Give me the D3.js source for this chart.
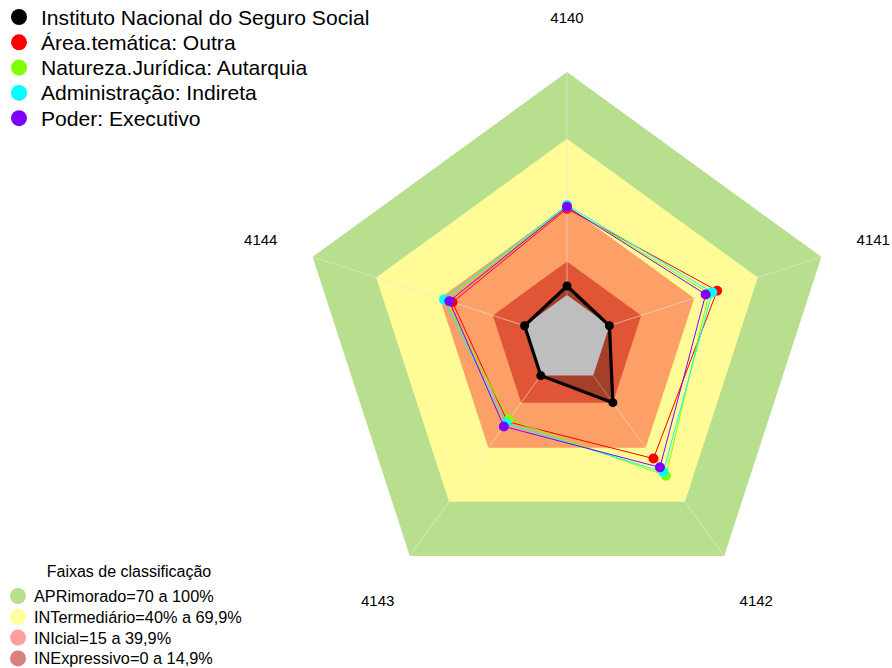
<!DOCTYPE html>
<html>
<head>
<meta charset="utf-8">
<script src="https://cdn.jsdelivr.net/npm/d3@7"></script>
<style>
  html, body { margin: 0; padding: 0; background: #fff; }
  svg { display: block; font-family: "Liberation Sans", Arial, sans-serif; }
</style>
</head>
<body>
<svg id="chart" width="892" height="668"></svg>
<script>
// ---- data ----
const axes = ["4140", "4141", "4142", "4143", "4144"];
const seriesNames = [
  "Instituto Nacional do Seguro Social",
  "Área.temática: Outra",
  "Natureza.Jurídica: Autarquia",
  "Administração: Indireta",
  "Poder: Executivo"
];
const seriesColors = ["#000000", "#FF0000", "#80FF00", "#00FFFF", "#8000FF"];
const inss      = [4, 0, 15, 0, 0];
const outra     = [38.7, 50.8, 46, 25.5, 34];
const autarquia = [39.5, 47, 55.5, 24.4, 37.5];
const indireta  = [40.3, 48.5, 53.5, 26.5, 38];
const executivo = [39.5, 45.4, 50.9, 28.2, 35.5];
const seriesValues = [inss, outra, autarquia, indireta, executivo];

const bandNames = [
  "APRimorado=70 a 100%",
  "INTermediário=40% a 69,9%",
  "INIcial=15 a 39,9%",
  "INExpressivo=0 a 14,9%"
];
const bandUpper = [100, 70, 40, 15];
const bandFill = ["#B8DF8E", "#FFFC98", "#FDA068", "#E05536"];
const bandLegendFill = ["#B8E08F", "#FFFF9E", "#FF9E9E", "#D98080"];
const legendTitle = "Faixas de classificação";

// ---- layout ----
const svg = d3.select("#chart");
const cx = 567, cy = 339.5;
const r = d3.scaleLinear().domain([0, 100]).range([44.6, 267.5]);
const angle = d3.scaleLinear().domain([0, axes.length]).range([-Math.PI / 2, 1.5 * Math.PI]);
const pt = (i, v) => [cx + r(v) * Math.cos(angle(i)), cy + r(v) * Math.sin(angle(i))];
const polyLine = d3.line();

// bands
bandUpper.forEach((u, k) => {
  svg.append("path")
    .attr("d", polyLine(axes.map((_, i) => pt(i, u))) + "Z")
    .attr("fill", bandFill[k]);
});

// spokes
axes.forEach((_, i) => {
  const a = pt(i, 0), b = pt(i, 100);
  svg.append("line")
    .attr("x1", a[0]).attr("y1", a[1]).attr("x2", b[0]).attr("y2", b[1])
    .attr("stroke", "#e6e6e6").attr("stroke-opacity", 0.6).attr("stroke-width", 1);
});

// black series fill
svg.append("path")
  .attr("d", polyLine(inss.map((v, i) => pt(i, v))) + "Z")
  .attr("fill", "#000").attr("fill-opacity", 0.26);

// grey center
svg.append("path")
  .attr("d", polyLine(axes.map((_, i) => pt(i, 0))) + "Z")
  .attr("fill", "#BEBEBE");

// series lines & points
seriesValues.forEach((vals, s) => {
  const pts = vals.map((v, i) => pt(i, v));
  svg.append("path")
    .attr("d", polyLine(pts) + "Z")
    .attr("fill", "none")
    .attr("stroke", seriesColors[s])
    .attr("stroke-width", s === 0 ? 3.2 : 1)
    .attr("stroke-linejoin", "round");
  svg.selectAll(null).data(pts).enter().append("circle")
    .attr("cx", d => d[0]).attr("cy", d => d[1])
    .attr("r", s === 0 ? 4.5 : 5)
    .attr("fill", seriesColors[s]);
});

// axis labels
axes.forEach((lab, i) => {
  const rr = 322;
  svg.append("text")
    .attr("x", cx + rr * Math.cos(angle(i)))
    .attr("y", cy + rr * Math.sin(angle(i)))
    .attr("text-anchor", "middle")
    .attr("dominant-baseline", "central")
    .attr("font-size", 15)
    .attr("fill", "#000")
    .text(lab);
});

// top legend
seriesNames.forEach((name, s) => {
  const y = 17 + s * 25.3;
  svg.append("circle").attr("cx", 19).attr("cy", y).attr("r", 8).attr("fill", seriesColors[s]);
  svg.append("text").attr("x", 41).attr("y", y)
    .attr("dominant-baseline", "central")
    .attr("font-size", 21.1).attr("fill", "#000").text(name);
});

// bottom legend
svg.append("text").attr("x", 129).attr("y", 571)
  .attr("text-anchor", "middle").attr("dominant-baseline", "central")
  .attr("font-size", 16).attr("fill", "#000").text(legendTitle);
bandNames.forEach((name, k) => {
  const y = 596 + k * 20.8;
  svg.append("circle").attr("cx", 18).attr("cy", y).attr("r", 8)
    .attr("fill", bandLegendFill[k]);
  svg.append("text").attr("x", 34).attr("y", y)
    .attr("dominant-baseline", "central")
    .attr("font-size", 16.3).attr("fill", "#000").text(name);
});
</script>
</body>
</html>
